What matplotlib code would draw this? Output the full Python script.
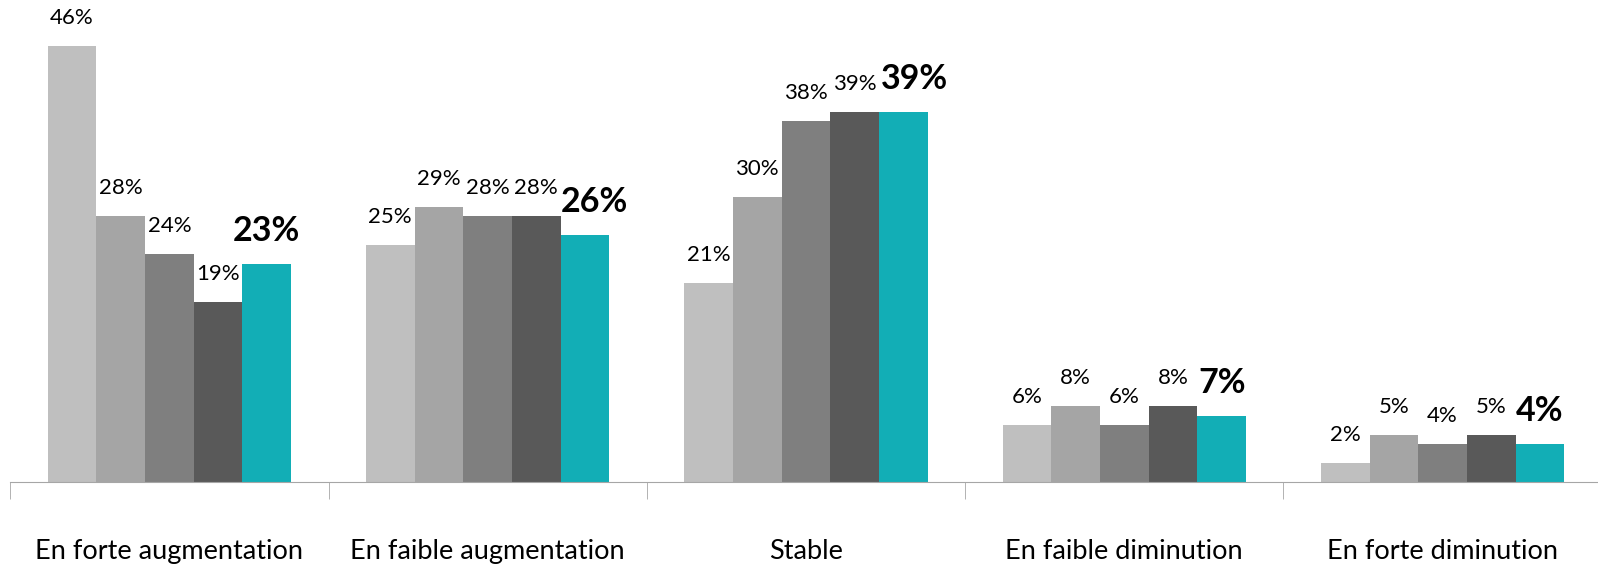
import matplotlib.pyplot as plt
import numpy as np

plt.rcParams['font.family'] = ['Lato', 'DejaVu Sans']

categories = ['En forte augmentation', 'En faible augmentation', 'Stable',
              'En faible diminution', 'En forte diminution']
s1 = [46, 25, 21, 6, 2]
s2 = [28, 29, 30, 8, 5]
s3 = [24, 28, 38, 6, 4]
s4 = [19, 28, 39, 8, 5]
s5 = [23, 26, 39, 7, 4]
series = [s1, s2, s3, s4, s5]
colors = ['#BFBFBF', '#A5A5A5', '#7F7F7F', '#595959', '#12AEB6']

fig = plt.figure(figsize=(15.98, 5.66), dpi=100)
ax = fig.add_axes([10.2 / 1598, 84 / 566, 5 * 318.3 / 1598, 482 / 566])

x = np.arange(len(categories))
w = 0.153
# petit décalage à droite des étiquettes en gras qui touchent leurs voisines
nudge = [0, 0.03, 0.035, 0, 0]
for i, (vals, c) in enumerate(zip(series, colors)):
    pos = x + (i - 2) * w
    ax.bar(pos, vals, width=w, color=c, edgecolor='none')
    for k, (p, v) in enumerate(zip(pos, vals)):
        if i == 4:
            ax.text(p + nudge[k], v + 1.8, f'{v}%', ha='center', va='bottom',
                    fontsize=24.5, fontweight='bold')
        else:
            ax.text(p, v + 1.9, f'{v}%', ha='center', va='bottom', fontsize=16)

ax.set_xlim(-0.5, 4.5)
ax.set_ylim(0, 50.8)

for s in ['top', 'right', 'left']:
    ax.spines[s].set_visible(False)
ax.spines['bottom'].set_color('#A6A6A6')
ax.set_yticks([])

ax.set_xticks(x)
ax.set_xticklabels(categories, fontsize=19.5)
ax.tick_params(axis='x', which='major', length=0, pad=41)
ax.set_xticks(np.arange(-0.5, 5.0, 1.0), minor=True)
ax.tick_params(axis='x', which='minor', length=12, color='#A6A6A6', direction='out')

fig.savefig('out.png', dpi=100)
